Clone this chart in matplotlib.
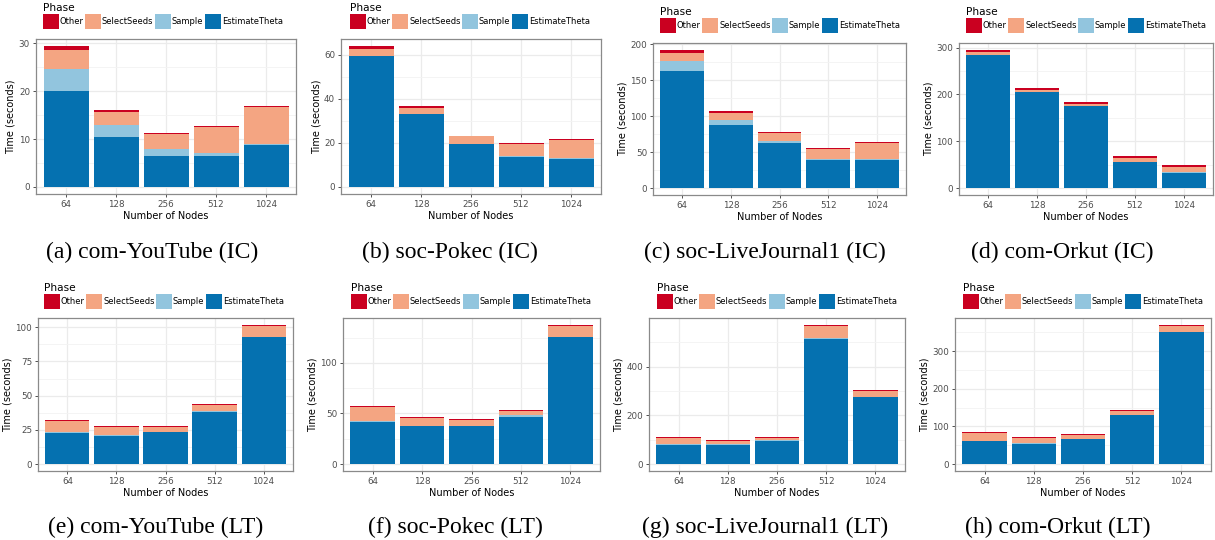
import matplotlib
matplotlib.use("Agg")
import matplotlib.pyplot as plt
from matplotlib.patches import Patch
from matplotlib.ticker import MultipleLocator
import numpy as np

nodes = ["64", "128", "256", "512", "1024"]
phases = ["Other", "SelectSeeds", "Sample", "EstimateTheta"]
colors = {"Other": "#CA0020", "SelectSeeds": "#F4A582", "Sample": "#92C5DE", "EstimateTheta": "#0571B0"}

# (a) com-YouTube (IC)
a_est = [20.0, 10.4, 6.45, 6.45, 8.73]
a_sam = [4.7, 2.6, 1.45, 0.6, 0.15]
a_sel = [3.9, 2.7, 3.25, 5.4, 7.9]
a_oth = [0.85, 0.45, 0.2, 0.2, 0.2]
# (b) soc-Pokec (IC)
b_est = [59.4, 33.1, 19.4, 13.8, 12.9]
b_sam = [0.2, 0.2, 0.3, 0.1, 0.1]
b_sel = [3.0, 2.6, 3.2, 5.5, 8.35]
b_oth = [1.3, 0.9, 0.4, 0.45, 0.6]
# (c) soc-LiveJournal1 (IC)
c_est = [162.8, 87.2, 62.8, 39.0, 39.0]
c_sam = [14.3, 7.3, 2.3, 0.9, 0.9]
c_sel = [11.0, 10.5, 11.0, 14.2, 22.9]
c_oth = [4.1, 2.8, 1.4, 1.9, 1.4]
# (d) com-Orkut (IC)
d_est = [284.5, 204.2, 174.6, 56.3, 33.1]
d_sam = [0.5, 0.3, 0.3, 0.2, 0.2]
d_sel = [5.1, 5.4, 5.4, 8.3, 12.5]
d_oth = [5.0, 2.8, 2.8, 2.8, 2.8]
# (e) com-YouTube (LT)
e_est = [22.9, 20.7, 23.4, 38.3, 92.9]
e_sam = [0.8, 0.5, 0.2, 0.5, 0.2]
e_sel = [7.8, 5.6, 3.7, 4.4, 7.9]
e_oth = [0.7, 0.8, 0.7, 0.7, 0.7]
# (f) soc-Pokec (LT)
f_est = [41.8, 37.8, 37.8, 47.0, 125.7]
f_sam = [0.6, 0.2, 0.2, 1.0, 0.2]
f_sel = [13.5, 7.7, 5.4, 4.6, 10.6]
f_oth = [1.0, 1.0, 1.0, 1.0, 1.0]
# (g) soc-LiveJournal1 (LT)
g_est = [79.5, 79.5, 95.9, 515.0, 275.3]
g_sam = [4.1, 4.1, 1.0, 4.0, 1.0]
g_sel = [24.6, 10.9, 11.3, 48.0, 25.1]
g_oth = [4.1, 5.5, 4.1, 4.0, 4.1]
# (h) com-Orkut (LT)
h_est = [61.1, 54.0, 66.4, 131.0, 351.3]
h_sam = [0.3, 2.6, 0.3, 0.3, 0.3]
h_sel = [20.9, 12.4, 11.2, 10.3, 15.7]
h_oth = [2.7, 2.7, 2.6, 2.6, 2.6]

captions = ["(a) com-YouTube (IC)", "(b) soc-Pokec (IC)", "(c) soc-LiveJournal1 (IC)", "(d) com-Orkut (IC)",
            "(e) com-YouTube (LT)", "(f) soc-Pokec (LT)", "(g) soc-LiveJournal1 (LT)", "(h) com-Orkut (LT)"]
data = [(a_est, a_sam, a_sel, a_oth), (b_est, b_sam, b_sel, b_oth), (c_est, c_sam, c_sel, c_oth),
        (d_est, d_sam, d_sel, d_oth), (e_est, e_sam, e_sel, e_oth), (f_est, f_sam, f_sel, f_oth),
        (g_est, g_sam, g_sel, g_oth), (h_est, h_sam, h_sel, h_oth)]
major_step = [10, 20, 50, 100, 25, 50, 200, 100]

W, H = 1215, 540
fig = plt.figure(figsize=(W / 100, H / 100), dpi=100)

# axes boxes in pixels: left, top, right, bottom
boxes = [(36, 39, 296, 194), (341, 39, 601, 194), (653, 43, 906, 195), (959, 43, 1213, 195),
         (38, 318, 293, 471), (343, 318, 600, 471), (649, 318, 905, 471), (955, 318, 1211, 471)]
legend_x = [43, 350, 660, 966, 44, 351, 657, 963]
legend_top = [3, 3, 7, 7, 283, 283, 283, 283]
cap_x = [152, 450, 765, 1062, 156, 455, 765, 1058]
cap_y = [252, 252, 252, 252, 527, 527, 527, 527]

tick_col = "#4D4D4D"
for i, (est, sam, sel, oth) in enumerate(data):
    l, t, r, b = boxes[i]
    ax = fig.add_axes([l / W, 1 - b / H, (r - l) / W, (b - t) / H])
    x = np.arange(len(nodes))
    est = np.array(est); sam = np.array(sam); sel = np.array(sel); oth = np.array(oth)
    ax.bar(x, est, 0.9, color=colors["EstimateTheta"], zorder=3)
    ax.bar(x, sam, 0.9, bottom=est, color=colors["Sample"], zorder=3)
    ax.bar(x, sel, 0.9, bottom=est + sam, color=colors["SelectSeeds"], zorder=3)
    ax.bar(x, oth, 0.9, bottom=est + sam + sel, color=colors["Other"], zorder=3)
    total = (est + sam + sel + oth).max()
    ax.set_xlim(-0.6, len(nodes) - 0.4)
    ax.set_ylim(-0.05 * total, 1.05 * total)
    ax.set_xticks(x)
    ax.set_xticklabels(nodes)
    st = major_step[i]
    ax.yaxis.set_major_locator(MultipleLocator(st))
    ax.yaxis.set_minor_locator(MultipleLocator(st / 2))
    ax.set_facecolor("white")
    ax.grid(True, which="major", color="#EBEBEB", linewidth=0.9, zorder=0)
    ax.grid(True, which="minor", axis="y", color="#F3F3F3", linewidth=0.6, zorder=0)
    ax.tick_params(axis="both", which="major", labelsize=6.3, labelcolor=tick_col, color="#333333",
                   length=2.5, width=0.6, pad=1.8)
    ax.tick_params(axis="both", which="minor", length=0)
    for sp in ax.spines.values():
        sp.set_color("#8A8A8A")
        sp.set_linewidth(0.9)
    ax.set_xlabel("Number of Nodes", fontsize=7, labelpad=1.5)
    ax.set_ylabel("Time (seconds)", fontsize=7, labelpad=2)

    handles = [Patch(facecolor=colors[p], edgecolor="none") for p in phases]
    leg = ax.legend(handles, phases, ncol=4, loc="upper left",
                    bbox_to_anchor=(legend_x[i] / W, 1 - legend_top[i] / H),
                    bbox_transform=fig.transFigure, title="Phase", alignment="left",
                    frameon=False, fontsize=6.0, title_fontsize=7.6,
                    handlelength=1.9, handleheight=2.4, handletextpad=0.1,
                    columnspacing=0.2, borderpad=0, borderaxespad=0)
    leg._legend_box.sep = 1

    fig.text(cap_x[i] / W, 1 - cap_y[i] / H, captions[i], ha="center", va="center",
             fontsize=17, family="Liberation Serif")

fig.savefig("out.png", dpi=100)
